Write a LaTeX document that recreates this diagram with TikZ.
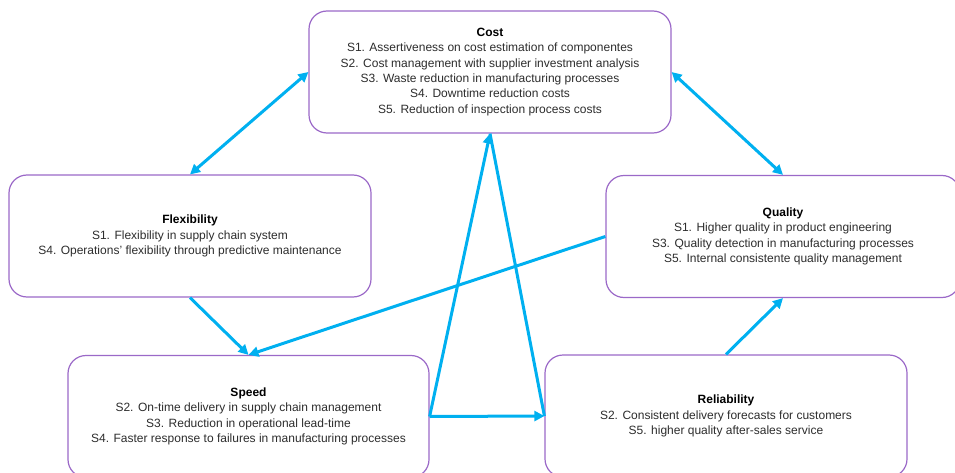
\documentclass[tikz,border=0pt]{standalone}
\usepackage{fontspec}
\setmainfont{Liberation Sans}
\usetikzlibrary{arrows.meta}
\definecolor{boxpurple}{RGB}{155,105,200}
\definecolor{arrowblue}{RGB}{0,176,240}
\definecolor{textgray}{RGB}{45,45,45}
\tikzset{
	goalbox/.style={draw=boxpurple, line width=1.2pt, rounded corners=18pt, fill=white,
		minimum height=122pt, align=center, text=textgray,
		font=\fontsize{12}{15.3}\selectfont},
	link/.style={draw=arrowblue, line width=3pt, -{Triangle[length=10pt,width=10pt]}},
	twolink/.style={link, {Triangle[length=10pt,width=10pt]}-{Triangle[length=10pt,width=10pt]}}
}
\begin{document}
\begin{tikzpicture}[x=1pt, y=-1pt]
	\useasboundingbox (0,0) rectangle (955,473);
	\clip (0,0) rectangle (955,473);
	%boxes
	\node[goalbox, minimum width=362pt] (cost) at (490,72)
	{\textcolor{black}{\textbf{Cost}}\\
		S1. Assertiveness on cost estimation of componentes\\
		S2. Cost management with supplier investment analysis\\
		S3. Waste reduction in manufacturing processes\\
		S4. Downtime reduction costs\\
		S5. Reduction of inspection process costs};
	\node[goalbox, minimum width=362pt] (flex) at (190,236)
	{\textcolor{black}{\textbf{Flexibility}}\\
		S1. Flexibility in supply chain system\\
		S4. Operations’ flexibility through predictive maintenance};
	\node[goalbox, minimum width=354pt] (quality) at (783,236.5)
	{\textcolor{black}{\textbf{Quality}}\\
		S1. Higher quality in product engineering\\
		S3. Quality detection in manufacturing processes\\
		S5. Internal consistente quality management};
	\node[goalbox, minimum width=361pt] (speed) at (248.5,416.5)
	{\textcolor{black}{\textbf{Speed}}\\
		S2. On-time delivery in supply chain management\\
		S3. Reduction in operational lead-time\\
		S4. Faster response to failures in manufacturing processes};
	\node[goalbox, minimum width=362pt] (reliab) at (726,416)
	{\textcolor{black}{\textbf{Reliability}}\\
		S2. Consistent delivery forecasts for customers\\
		S5. higher quality after-sales service};
	
	%links
	\draw[twolink] (flex.north) -- (cost.west);
	\draw[twolink] (cost.east) -- (quality.north);
	\draw[link] (flex.south) -- (speed.north);
	\draw[link] (quality.west) -- (speed.north);
	\draw[link] (speed.east) -- (cost.south);
	\draw[link, -] (cost.south) -- (reliab.west);
	\draw[link] (speed.east) -- (reliab.west);
	\draw[link] (reliab.north) -- (quality.south);
\end{tikzpicture}
\end{document}
